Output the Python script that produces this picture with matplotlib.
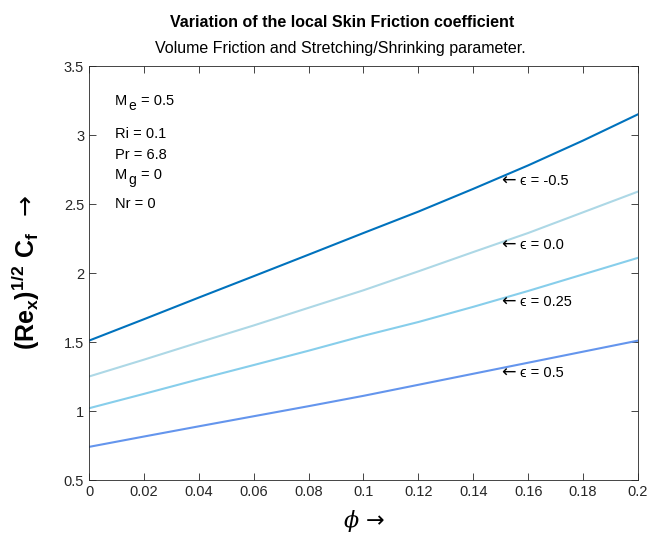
import matplotlib.pyplot as plt

plt.rcParams['font.family'] = ['Liberation Sans', 'DejaVu Sans']
plt.rcParams['mathtext.fontset'] = 'custom'
plt.rcParams['mathtext.rm'] = 'Liberation Sans'
plt.rcParams['mathtext.it'] = 'DejaVu Serif:italic'
plt.rcParams['mathtext.bf'] = 'Liberation Sans:bold'

# volume fraction phi
phi = [0, 0.02, 0.04, 0.06, 0.08, 0.10, 0.12, 0.14, 0.16, 0.18, 0.20]

# skin friction for each epsilon
cf_m05 = [1.51, 1.665, 1.822, 1.977, 2.133, 2.29, 2.445, 2.61, 2.78, 2.96, 3.15]
cf_00 = [1.25, 1.372, 1.497, 1.62, 1.748, 1.875, 2.012, 2.152, 2.29, 2.44, 2.59]
cf_025 = [1.02, 1.124, 1.23, 1.333, 1.437, 1.545, 1.645, 1.755, 1.87, 1.99, 2.11]
cf_05 = [0.74, 0.815, 0.889, 0.962, 1.035, 1.11, 1.19, 1.27, 1.35, 1.43, 1.51]

eps_labels = ['-0.5', '0.0', '0.25', '0.5']
label_y = [2.667, 2.203, 1.79, 1.275]
colors = ['#0072BD', '#ADD8E6', '#87CEEB', '#6495ED']

# parameter box: (main, subscript, rest)
params = [('M', 'e', '= 0.5'), ('Ri = 0.1', '', ''), ('Pr = 6.8', '', ''),
          ('M', 'g', '= 0'), ('Nr = 0', '', '')]
params_y = [3.245, 3.01, 2.855, 2.71, 2.50]

fig = plt.figure(figsize=(6.53, 5.35), dpi=100)
ax = fig.add_axes([0.1363, 0.1028, 0.8407, 0.7738])

for ys, c in zip([cf_m05, cf_00, cf_025, cf_05], colors):
    ax.plot(phi, ys, color=c, linewidth=1.5)

for lab, yy in zip(eps_labels, label_y):
    ax.text(0.1502, yy, '\u2190', fontsize=12.5, va='center', ha='left',
            family=['DejaVu Sans'])
    ax.text(0.1572, yy, '\u03f5 = ' + lab, fontsize=10.5, va='center',
            ha='left', family=['Liberation Sans', 'DejaVu Sans'])

for (main, sub, rest), yy in zip(params, params_y):
    ax.text(0.0095, yy, main, fontsize=10.5, va='center', ha='left')
    if sub:
        ax.annotate(sub, xy=(0.0095, yy), xytext=(13.5, -5),
                    textcoords='offset pixels', fontsize=10,
                    va='center', ha='left')
        ax.annotate(rest, xy=(0.0095, yy), xytext=(26, 0),
                    textcoords='offset pixels', fontsize=10.5,
                    va='center', ha='left')

ax.set_xlim(0, 0.2)
ax.set_ylim(0.5, 3.5)
ax.set_xticks(phi)
ax.set_xticklabels(['0', '0.02', '0.04', '0.06', '0.08', '0.1', '0.12', '0.14',
                    '0.16', '0.18', '0.2'])
ax.set_yticks([0.5, 1, 1.5, 2, 2.5, 3, 3.5])
ax.set_yticklabels(['0.5', '1', '1.5', '2', '2.5', '3', '3.5'])
ax.tick_params(direction='in', top=True, right=True, labelsize=10.5,
               colors='#262626', length=5, width=0.6)
for s in ax.spines.values():
    s.set_color('#262626')
    s.set_linewidth(0.6)

ax.set_xlabel('$\\phi$ \u2192', fontsize=16, family=['DejaVu Sans'])
ax.xaxis.set_label_coords(0.5, -0.068)
ax.set_ylabel('$\\mathbf{(Re_{x})^{1/2}\\ C_{f}}$  \u2192', fontsize=18,
              family=['DejaVu Sans'])
ax.yaxis.set_label_coords(-0.085, 0.5)

fig.text(0.524, 0.958, 'Variation of the local Skin Friction coefficient',
         fontsize=11.5, fontweight='bold', ha='center', va='center')
fig.text(0.522, 0.909, 'Volume Friction and Stretching/Shrinking parameter.',
         fontsize=11.5, ha='center', va='center')

fig.savefig('out.png', dpi=100)
